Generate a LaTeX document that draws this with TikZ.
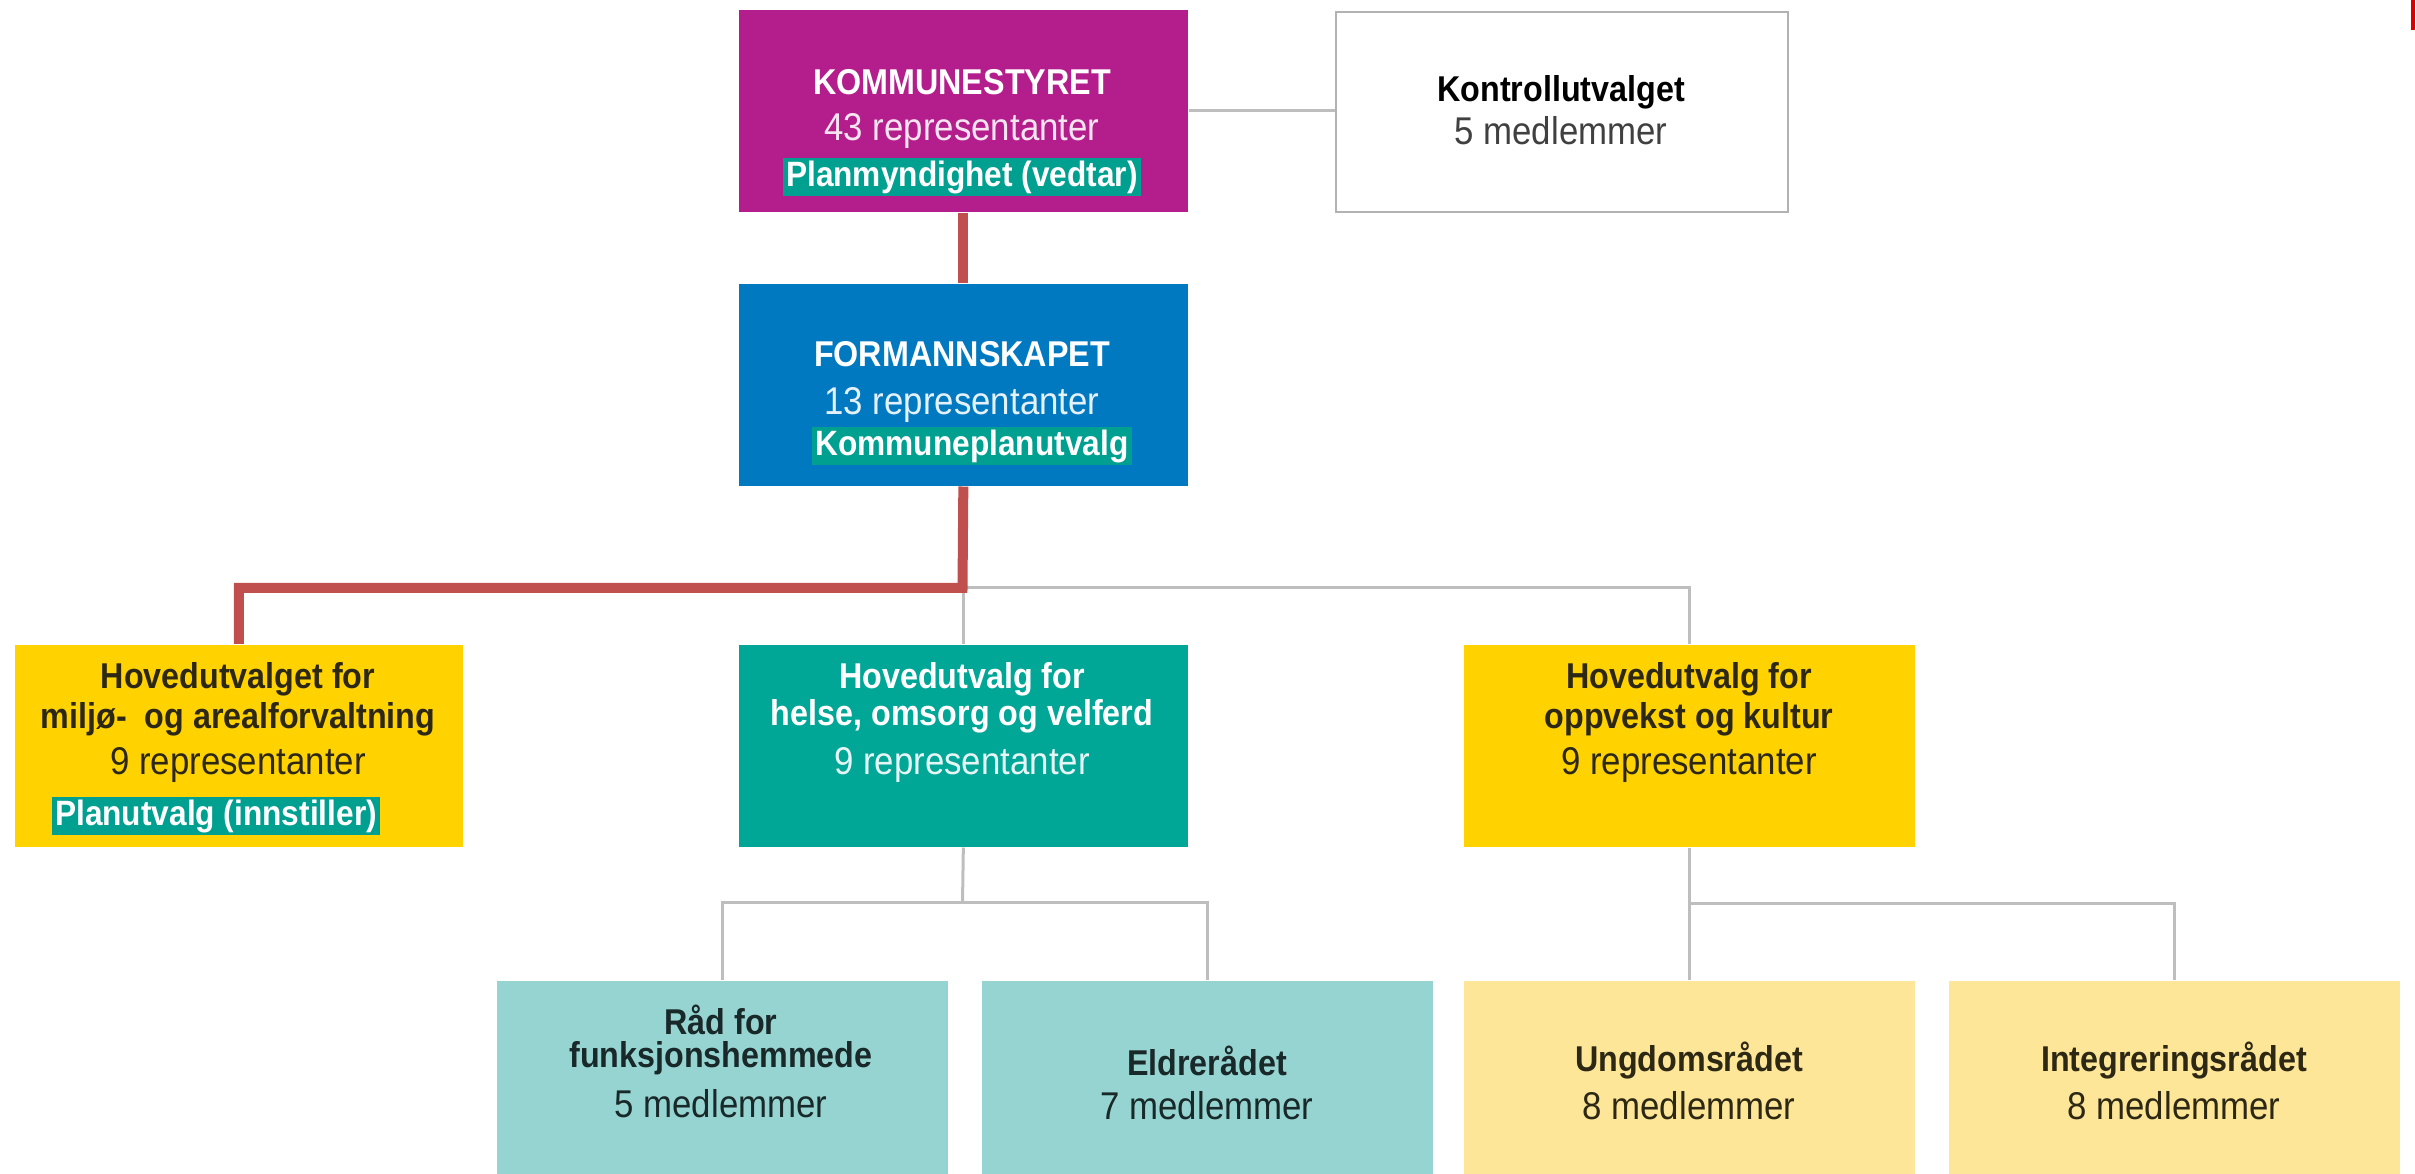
\documentclass[tikz,border=0pt]{standalone}
\usepackage{fontspec}
\setmainfont{Liberation Sans}[FakeStretch=0.9]
\usepackage{xcolor}

\definecolor{kstmagenta}{RGB}{180,30,140}
\definecolor{formblue}{RGB}{0,121,193}
\definecolor{hovyellow}{RGB}{255,210,0}
\definecolor{hovteal}{RGB}{0,166,150}
\definecolor{raadteal}{RGB}{150,212,210}
\definecolor{raadyellow}{RGB}{253,230,152}
\definecolor{hlteal}{RGB}{0,160,145}
\definecolor{linegray}{RGB}{190,190,190}
\definecolor{planred}{RGB}{192,80,77}
\definecolor{darktext}{RGB}{45,40,20}
\definecolor{tealtext}{RGB}{25,40,40}

\tikzset{
  box/.style={anchor=north west, inner sep=0pt, minimum width=4.49cm, minimum height=2.02cm},
  smallbox/.style={box, minimum width=4.51cm, minimum height=1.94cm},
  title/.style={font=\fontsize{10.2}{12}\selectfont\bfseries},
  count/.style={font=\fontsize{11}{12}\selectfont},
  hl/.style={fill=hlteal, text=white, font=\fontsize{10}{11}\selectfont\bfseries,
    inner xsep=1pt, inner ysep=0.5pt, text height=7.8pt, text depth=2.2pt},
  grayline/.style={draw=linegray, line width=0.03cm},
  redline/.style={draw=planred, line width=0.1cm},
}

\begin{document}
\begin{tikzpicture}[x=0.01cm, y=-0.01cm]
    \useasboundingbox (0,0) rectangle (2415,1174);

    % Boxes
    \node[box, fill=kstmagenta] (kst) at (738,9) {};
    \node[box, fill=white, draw=gray!60, line width=0.02cm, minimum width=4.52cm, minimum height=2.0cm] (kontroll) at (1335,11) {};
    \node[box, fill=formblue] (form) at (738,283) {};
    \node[box, fill=hovyellow, minimum width=4.48cm] (hovmiljo) at (14,644) {};
    \node[box, fill=hovteal] (hovhelse) at (738,644) {};
    \node[box, fill=hovyellow, minimum width=4.51cm] (hovoppv) at (1463,644) {};
    \node[smallbox, fill=raadteal] (raad) at (496,980) {};
    \node[smallbox, fill=raadteal] (eldre) at (981,980) {};
    \node[smallbox, fill=raadyellow] (ungdom) at (1463,980) {};
    \node[smallbox, fill=raadyellow] (integ) at (1948,980) {};

    % Split points
    \coordinate (split) at (962.5,588);
    \coordinate (splithelse) at (962.5,903);
    \coordinate (splitoppv) at (1688.5,904);

    % Gray connectors
    \draw[grayline] (kst.east) -- (kst.east -| kontroll.west);
    \draw[grayline] (form.south) -- (hovhelse.north);
    \draw[grayline] (split) -| (hovoppv.north);
    \draw[grayline] (hovhelse.south) -- (splithelse);
    \draw[grayline] (raad.north) |- (splithelse) -| (eldre.north);
    \draw[grayline] (hovoppv.south) -- (ungdom.north);
    \draw[grayline] (splitoppv) -| (integ.north);

    % Plan route
    \draw[redline] (kst.south) -- (form.north);
    \draw[redline] (form.south) -- (split) -| (hovmiljo.north);

    % Kommunestyret
    \node[title, text=white] (kst-title) at (962,82) {KOMMUNESTYRET};
    \node[count, text=white!88!kstmagenta] (kst-count) at (962,131) {43 representanter};
    \node[hl] (kst-hl) at (962,177) {Planmyndighet (vedtar)};

    % Kontrollutvalget
    \node[title, text=black] (kontroll-title) at (1561,92) {Kontrollutvalget};
    \node[count, text=black!75] (kontroll-count) at (1561,131) {5 medlemmer};

    % Formannskapet
    \node[title, text=white] (form-title) at (962,354) {FORMANNSKAPET};
    \node[count, text=white!90!formblue] (form-count) at (962,405) {13 representanter};
    \node[hl] (form-hl) at (972,446) {Kommuneplanutvalg};

    % Hovedutvalg
    \node[title, text=darktext] (hovmiljo-t1) at (238,679) {Hovedutvalget for};
    \node[title, text=darktext] (hovmiljo-t2) at (238,719) {miljø-\ \ og arealforvaltning};
    \node[count, text=darktext] (hovmiljo-count) at (238,765) {9 representanter};
    \node[hl] (hovmiljo-hl) at (216,816) {Planutvalg (innstiller)};

    \node[title, text=white] (hovhelse-t1) at (962,679) {Hovedutvalg for};
    \node[title, text=white] (hovhelse-t2) at (962,716) {helse, omsorg og velferd};
    \node[count, text=white!90!hovteal] (hovhelse-count) at (962,765) {9 representanter};

    \node[title, text=darktext] (hovoppv-t1) at (1689,679) {Hovedutvalg for};
    \node[title, text=darktext] (hovoppv-t2) at (1689,719) {oppvekst og kultur};
    \node[count, text=darktext] (hovoppv-count) at (1689,765) {9 representanter};

    % Raad
    \node[title, text=tealtext] (raad-t1) at (721,1020) {Råd for};
    \node[title, text=tealtext] (raad-t2) at (721,1058) {funksjonshemmede};
    \node[count, text=tealtext] (raad-count) at (721,1104) {5 medlemmer};

    \node[title, text=tealtext] (eldre-title) at (1207,1061) {Eldrerådet};
    \node[count, text=tealtext] (eldre-count) at (1207,1106) {7 medlemmer};

    \node[title, text=darktext] (ungdom-title) at (1689,1061) {Ungdomsrådet};
    \node[count, text=darktext] (ungdom-count) at (1689,1106) {8 medlemmer};

    \node[title, text=darktext] (integ-title) at (2174,1061) {Integreringsrådet};
    \node[count, text=darktext] (integ-count) at (2174,1106) {8 medlemmer};

    % Corner mark
    \fill[red!85!black] (2411,0) rectangle (2415,30);
\end{tikzpicture}
\end{document}
